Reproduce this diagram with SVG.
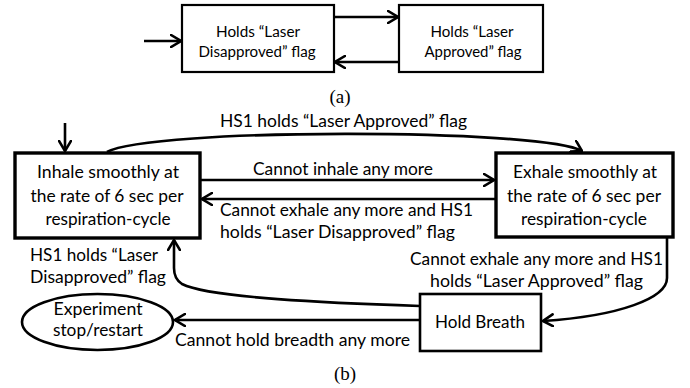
<svg xmlns="http://www.w3.org/2000/svg" width="690" height="388" viewBox="0 0 690 388">
  <style>
    .box { fill: #fff; stroke: #000; }
    .thin { stroke-width: 2.2; }
    .thick { stroke-width: 3.4; }
    .mid { stroke-width: 2.6; }
    .wire { fill: none; stroke: #000; stroke-width: 2.6; }
    .t { font-family: Lato, "Liberation Sans", sans-serif; fill: #000; }
    .ta { font-size: 15.6px; }
    .tb { font-size: 17px; }
    .c { text-anchor: middle; }
    .cap { font-family: "Liberation Serif", serif; font-size: 19px; fill: #000; text-anchor: middle; }
  </style>
  <defs>
    <marker id="head" markerUnits="userSpaceOnUse" viewBox="0 0 12 14" refX="11" refY="7" markerWidth="12" markerHeight="14" orient="auto">
      <path d="M1,1 L11,7 L1,13" fill="none" stroke="#000" stroke-width="2.6" stroke-linecap="round" stroke-linejoin="miter"/>
    </marker>
  </defs>

  <!-- (a) two-state flag machine -->
  <g id="a-disapproved">
    <rect class="box thin" x="182" y="5" width="152" height="67"/>
    <text class="t ta c" x="258" y="37" textLength="84" lengthAdjust="spacingAndGlyphs">Holds “Laser</text>
    <text class="t ta c" x="257" y="57" textLength="117" lengthAdjust="spacingAndGlyphs">Disapproved” flag</text>
  </g>
  <g id="a-approved">
    <rect class="box thin" x="399" y="5" width="144" height="67"/>
    <text class="t ta c" x="472" y="37" textLength="83" lengthAdjust="spacingAndGlyphs">Holds “Laser</text>
    <text class="t ta c" x="473" y="57" textLength="97" lengthAdjust="spacingAndGlyphs">Approved” flag</text>
  </g>
  <g id="a-connectors">
    <path class="wire" d="M144,41 L181,41" marker-end="url(#head)"/>
    <path class="wire" d="M335,17 L398,17" marker-end="url(#head)"/>
    <path class="wire" d="M398,62 L335,62" marker-end="url(#head)"/>
  </g>
  <text class="cap" x="340" y="103">(a)</text>

  <!-- (b) breathing protocol -->
  <g id="inhale">
    <rect class="box thick" x="15" y="153" width="185" height="85"/>
    <text class="t tb c" x="108" y="178" textLength="142" lengthAdjust="spacingAndGlyphs">Inhale smoothly at</text>
    <text class="t tb c" x="107" y="202" textLength="153" lengthAdjust="spacingAndGlyphs">the rate of 6 sec per</text>
    <text class="t tb c" x="108" y="225" textLength="125" lengthAdjust="spacingAndGlyphs">respiration-cycle</text>
  </g>
  <g id="exhale">
    <rect class="box thick" x="496" y="153" width="177" height="84"/>
    <text class="t tb c" x="585" y="178" textLength="144" lengthAdjust="spacingAndGlyphs">Exhale smoothly at</text>
    <text class="t tb c" x="584" y="202" textLength="154" lengthAdjust="spacingAndGlyphs">the rate of 6 sec per</text>
    <text class="t tb c" x="584" y="225" textLength="126" lengthAdjust="spacingAndGlyphs">respiration-cycle</text>
  </g>
  <g id="hold">
    <rect class="box mid" x="420" y="294" width="121" height="57"/>
    <text class="t tb c" x="480" y="328" textLength="90" lengthAdjust="spacingAndGlyphs">Hold Breath</text>
  </g>
  <g id="stop">
    <ellipse class="box mid" cx="97.5" cy="322" rx="75.5" ry="28"/>
    <text class="t tb c" x="98" y="315" textLength="89" lengthAdjust="spacingAndGlyphs">Experiment</text>
    <text class="t tb c" x="98" y="336" textLength="90" lengthAdjust="spacingAndGlyphs">stop/restart</text>
  </g>

  <g id="b-connectors">
    <path class="wire" d="M65,123 L65,151" marker-end="url(#head)"/>
    <path class="wire" d="M107,152 C150,128 540,128 582,151" marker-end="url(#head)"/>
    <path class="wire" d="M200,180 L494,180" marker-end="url(#head)"/>
    <path class="wire" d="M496,199 L202,199" marker-end="url(#head)"/>
    <path class="wire" d="M420,306 C330,303 210,298 182,284 Q174,279 174,268 L174,240" marker-end="url(#head)"/>
    <path class="wire" d="M667,237 L667,278 C667,298 620,316 543,321" marker-end="url(#head)"/>
    <path class="wire" d="M420,320 L175,320" marker-end="url(#head)"/>
  </g>

  <g id="b-labels">
    <text class="t tb c" x="343.5" y="127" textLength="247" lengthAdjust="spacingAndGlyphs">HS1 holds “Laser Approved” flag</text>
    <text class="t tb c" x="343" y="175" textLength="180" lengthAdjust="spacingAndGlyphs">Cannot inhale any more</text>
    <text class="t tb" x="220" y="216" textLength="253" lengthAdjust="spacingAndGlyphs">Cannot exhale any more and HS1</text>
    <text class="t tb" x="220" y="238" textLength="235" lengthAdjust="spacingAndGlyphs">holds “Laser Disapproved” flag</text>
    <text class="t tb" x="30" y="261" textLength="128" lengthAdjust="spacingAndGlyphs">HS1 holds “Laser</text>
    <text class="t tb" x="30" y="283" textLength="136" lengthAdjust="spacingAndGlyphs">Disapproved” flag</text>
    <text class="t tb c" x="536.5" y="265" textLength="253" lengthAdjust="spacingAndGlyphs">Cannot exhale any more and HS1</text>
    <text class="t tb c" x="536.5" y="287" textLength="213" lengthAdjust="spacingAndGlyphs">holds “Laser Approved” flag</text>
    <text class="t tb" x="175" y="346" textLength="235" lengthAdjust="spacingAndGlyphs">Cannot hold breadth any more</text>
  </g>
  <text class="cap" x="345" y="380">(b)</text>
</svg>
